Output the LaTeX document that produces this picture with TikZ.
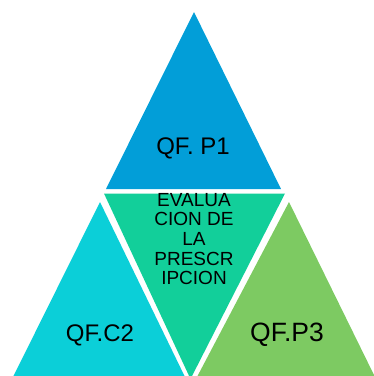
\documentclass[tikz,border=0pt]{standalone}
\usepackage{fontspec}
\setmainfont{Liberation Sans}
\definecolor{topblue}{RGB}{2,158,216}
\definecolor{midteal}{RGB}{18,207,154}
\definecolor{leftcyan}{RGB}{11,207,216}
\definecolor{rightgreen}{RGB}{125,202,98}
\begin{document}
\begin{tikzpicture}[x=1pt,y=-1pt,
  lbl/.style={inner sep=0pt,text=black}]
\useasboundingbox (0,0) rectangle (374,376);
\begin{scope}
\clip (0,0) rectangle (374,376);
% four triangles of the pyramid
\fill[topblue]   (194,12) -- (281,189) -- (106,189) -- cycle;
\fill[midteal]   (104,193.5) -- (285,193.5) -- (190.5,379) -- cycle;
\fill[leftcyan]  (100,202) -- (185,377) -- (13,377) -- cycle;
\fill[rightgreen](289,202) -- (375,377) -- (197,377) -- cycle;
\end{scope}
% labels
\node[lbl,font=\fontsize{24}{27}\selectfont] (p1) at (193,148) {QF. P1};
\node[lbl,font=\fontsize{24}{27}\selectfont] (c2) at (100,335) {QF.C2};
\node[lbl,font=\fontsize{26.5}{29}\selectfont] (p3) at (287,335) {QF.P3};
\node[lbl,anchor=north,align=center,font=\fontsize{19}{19.6}\selectfont] (ev) at (194,193)
  {EVALUA\\CION DE\\LA\\PRESCR\\IPCION};
\end{tikzpicture}
\end{document}
